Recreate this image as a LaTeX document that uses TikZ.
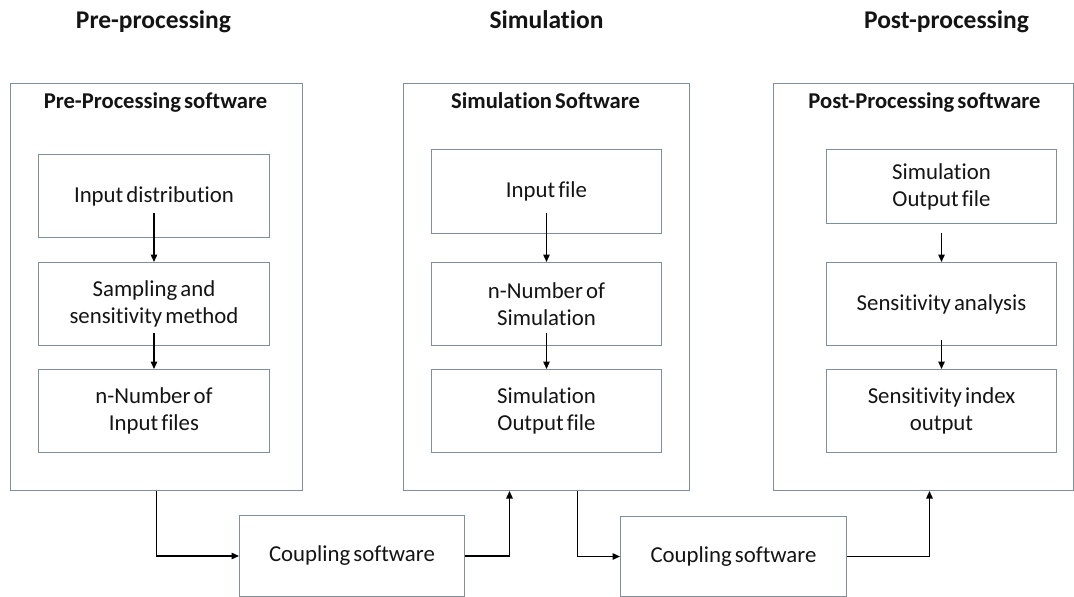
\documentclass[tikz,border=0pt]{standalone}
\usepackage{fontspec}
\setmainfont{Carlito}[Ligatures=NoCommon,WordSpace=0.6]
\usetikzlibrary{arrows.meta,calc}
\definecolor{bcol}{RGB}{128,143,158}
\definecolor{tcol}{RGB}{20,20,20}
\begin{document}
\begin{tikzpicture}[x=1pt,y=-1pt,
  box/.style={draw=bcol, line width=1pt, inner sep=0pt, anchor=north west, align=center,
    text=tcol, font=\fontsize{22.8}{27}\selectfont},
  hdr/.style={anchor=base, inner sep=0pt, text=tcol, font=\fontsize{22.6}{26}\selectfont\bfseries},
  ttl/.style={anchor=base, inner sep=0pt, text=tcol, font=\fontsize{25.5}{29}\selectfont\bfseries},
  arr/.style={-{Triangle[length=7.5pt,width=6.5pt]}, line width=1.4pt, black}]
\useasboundingbox (0,0) rectangle (1074,597);
\fill[white] (0,0) rectangle (1074,597);

% titles
\node[ttl] (t1) at (153.5,28) {Pre-processing};
\node[ttl] (t2) at (546.5,28) {Simulation};
\node[ttl] (t3) at (946.5,28) {Post-processing};

% outer boxes
\node[box, minimum width=292, minimum height=407] (pre) at (10,83) {};
\node[box, minimum width=286, minimum height=407] (sim) at (403,83) {};
\node[box, minimum width=300, minimum height=407] (post) at (773,83) {};

\node[hdr] (preh) at (155.5,108) {Pre-Processing software};
\node[hdr] (simh) at (545.5,108) {Simulation Software};
\node[hdr] (posth) at (924.5,108) {Post-Processing software};

% pre inner
\node[box, minimum width=231, minimum height=83] (a1) at (38,154) {Input distribution};
\node[box, minimum width=231, minimum height=83] (a2) at (38,262) {Sampling and\\sensitivity method};
\node[box, minimum width=231, minimum height=83] (a3) at (38,369) {n-Number of\\Input files};

% sim inner
\node[box, minimum width=230, minimum height=84] (b1) at (431,149) {Input file};
\node[box, minimum width=230, minimum height=83] (b2) at (431,262) {n-Number of\\Simulation};
\node[box, minimum width=230, minimum height=83] (b3) at (431,369) {Simulation\\Output file};

% post inner
\node[box, minimum width=230, minimum height=74] (c1) at (826,149) {Simulation\\Output file};
\node[box, minimum width=230, minimum height=83] (c2) at (826,262) {Sensitivity analysis};
\node[box, minimum width=230, minimum height=83] (c3) at (826,369) {Sensitivity index\\output};

% coupling boxes
\node[box, minimum width=225, minimum height=81] (k1) at (239,515) {Coupling software};
\node[box, minimum width=226, minimum height=80] (k2) at (620,516) {Coupling software};

% inner arrows
\draw[arr] ([yshift=25pt]a1.south) -- (a2.north);
\draw[arr] ([yshift=13pt]a2.south) -- (a3.north);
\draw[arr] ([yshift=21pt]b1.south) -- (b2.north);
\draw[arr] ([yshift=13pt]b2.south) -- (b3.north);
\draw[arr] ([yshift=-9pt]c1.south) -- (c2.north);
\draw[arr] ([yshift=6pt]c2.south) -- (c3.north);

% coupling arrows
\draw[arr] (pre.south) |- (k1.west);
\draw[arr] (k1.east) -| ([xshift=-37pt]sim.south);
\draw[arr] ([xshift=31pt]sim.south) |- (k2.west);
\draw[arr] (k2.east) -| ([xshift=6pt]post.south);
\end{tikzpicture}
\end{document}
